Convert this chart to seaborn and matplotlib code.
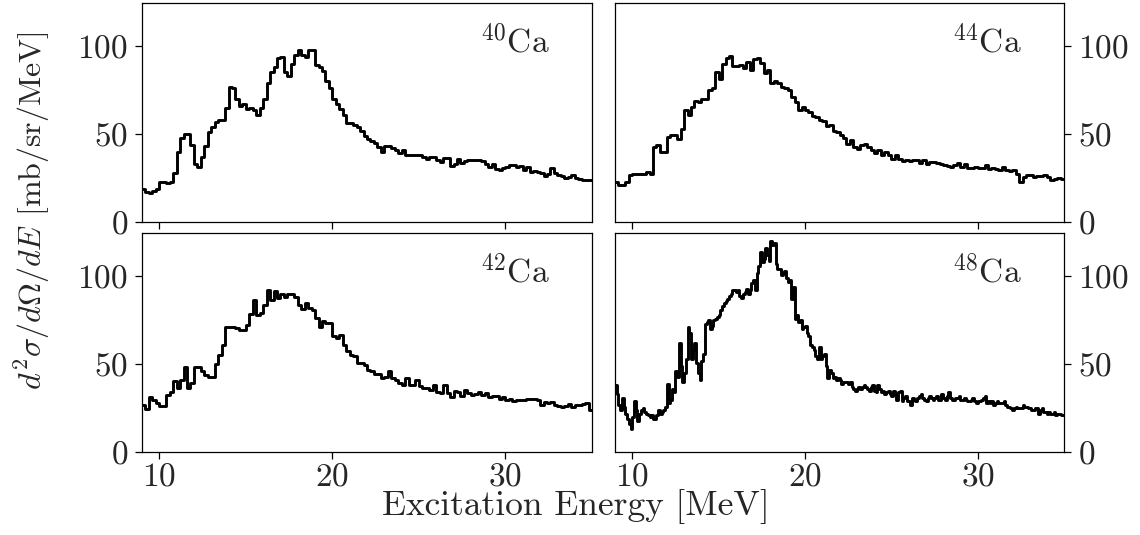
import numpy as np
import pandas as pd
import matplotlib
matplotlib.use("Agg")
import matplotlib.pyplot as plt
import seaborn as sns

# ---------------- data ----------------
e_min, e_max = 9.0, 35.0
bin_coarse = 0.2   # MeV, 40Ca / 42Ca / 44Ca
bin_fine = 0.1     # MeV, 48Ca

ca40 = [19, 17, 16.5, 17.5, 19, 22.5, 22.5, 22, 22.5, 28,
        40, 48, 50, 50, 44, 33, 31, 37, 43, 51,
        54, 57, 58, 58, 65, 77, 76, 70, 66, 67,
        64, 65, 63.5, 61, 65, 70, 79, 85, 88, 93,
        94, 85, 83, 90, 95, 98, 95, 94, 98, 98,
        89, 88, 86, 80, 76, 70, 67, 64, 61, 56,
        56, 55, 54, 52, 49, 47, 46, 45, 42.5, 40,
        43, 43, 42, 41, 39, 41, 38, 38, 38, 38,
        38, 37, 36, 37, 37, 35.5, 34, 36.5, 36.5, 32,
        33, 36, 33.5, 34.5, 35.5, 35.5, 35.5, 35, 34.5, 33,
        31.5, 33, 30, 29.5, 30.5, 31.5, 32.5, 32.5, 31.5, 32,
        29.5, 31.5, 28.5, 29, 28.5, 28, 26, 27.5, 30.5, 28,
        27, 26, 25, 25.5, 26.5, 25, 24.5, 24, 24, 24]

ca42 = [27, 24.5, 31.5, 29.5, 28, 26.5, 26.5, 32.5, 34.5, 40.5,
        36.5, 41, 48.5, 36.5, 39.5, 48.5, 48.5, 46, 44, 43,
        43, 50, 55.5, 61, 71.5, 71, 71, 70.5, 69.5, 69.5,
        72.5, 78.5, 86.5, 78, 79, 84, 92, 86.5, 91.5, 87.5,
        90, 88.5, 90, 90, 88.5, 84, 81.5, 85, 82, 81,
        76.5, 71.5, 74.5, 73.5, 73.5, 66, 65, 66.5, 61, 57.5,
        55.5, 55, 51, 50.5, 49.5, 47, 46, 44.5, 44.5, 42,
        43, 46.5, 42, 41, 39.5, 38.5, 42, 38.5, 38.5, 41,
        37.5, 36.5, 36.5, 35.5, 38, 34.5, 33.5, 38, 33.5, 31.5,
        35, 34, 32, 35.5, 33.5, 32.5, 33, 34, 32.5, 33.5,
        31.5, 32, 32, 30.5, 31.5, 30, 30.5, 29, 30, 30,
        30, 30.5, 30.5, 30.5, 29.5, 27, 28.5, 28, 28.5, 27,
        26.5, 26, 26.5, 27.5, 26, 27, 27, 27.5, 28, 24]

ca44 = [23, 21, 21, 23, 26.5, 27.5, 27.5, 27.5, 27.5, 28.5,
        27.5, 42.5, 43.5, 40, 40, 48.5, 49.5, 49.5, 47, 53,
        63.5, 61, 65.5, 69, 68.5, 70, 70, 75, 76, 85.5,
        81.5, 90, 93.5, 94.5, 88.5, 88.5, 89.5, 87.5, 91, 86.5,
        92.5, 93, 90.5, 84.5, 86.5, 79, 80, 79, 77, 76,
        75, 71, 68, 63.5, 65.5, 63.5, 62.5, 60.5, 59.5, 58,
        57.5, 54.5, 55, 52, 51, 49.5, 47.5, 44.5, 46.5, 42.5,
        41.5, 43.5, 44.5, 42.5, 41, 39.5, 41, 38, 40, 38,
        36, 38, 36, 34.5, 35, 34.5, 35.5, 35.5, 33.5, 35,
        33, 34, 34, 33.5, 33, 32.5, 32, 31.5, 32.5, 33.5,
        31.5, 33, 30.5, 30.5, 31, 30.5, 30.5, 32.5, 30, 30.5,
        30, 29.5, 31.5, 29.5, 29, 29.5, 27.5, 23, 25.5, 26.5,
        26.5, 25.5, 26, 26, 26.5, 25.5, 24, 24.5, 25, 24.5]

ca48 = [38, 33, 27, 24, 31, 26, 22, 19, 16, 13,
        20, 29, 24, 18, 22, 24, 25, 23, 22, 21,
        20, 21, 19, 19, 21, 24, 22, 23, 24, 26,
        39, 28, 30, 36, 34, 46, 43, 62, 49, 40,
        45, 53, 71, 68, 53, 58, 62, 51, 45, 41,
        52, 56, 73, 74, 75, 70, 72, 75, 76, 77,
        78, 81, 83, 85, 86, 87, 89, 90, 92, 92,
        91, 92, 89, 88, 90, 91, 93, 90, 92, 96,
        98, 92, 102, 106, 114, 108, 110, 116, 112, 109,
        120, 118, 119, 107, 104, 104, 101, 102, 103, 99,
        97, 98, 87, 94, 76, 78, 74, 75, 70, 71,
        72, 68, 66, 61, 60, 58, 55, 53, 60, 53,
        55, 56, 49, 42, 47, 45, 42, 43, 41, 42,
        41, 39, 40, 40, 40, 39, 40, 37, 36, 35,
        36, 37, 36, 37, 38, 37, 36, 35, 37, 38,
        35, 34, 38, 36, 34, 35, 33, 34, 35, 33,
        32, 35, 33, 30, 34, 35, 29, 31, 32, 29,
        29, 27, 31, 30, 29, 31, 32, 33, 31, 30,
        29, 31, 32, 31, 30, 31, 32, 30, 30, 33,
        31, 30, 32, 34, 31, 30, 30, 31, 31, 32,
        30, 30, 31, 30, 29, 29, 30, 31, 29, 28,
        29, 29, 30, 31, 32, 28, 29, 28, 29, 27,
        28, 29, 28, 28, 28, 29, 27, 26, 26, 25,
        24, 25, 26, 25, 25, 25, 27, 26, 26, 25,
        25, 24, 24, 25, 25, 22, 24, 25, 23, 23,
        22, 23, 22, 22, 23, 21, 22, 22, 21, 21]

isotopes = ["40", "44", "42", "48"]          # panel order: TL, TR, BL, BR
spectra = [ca40, ca44, ca42, ca48]
bin_widths = [bin_coarse, bin_coarse, bin_coarse, bin_fine]
x_ticks = [10, 20, 30]
y_ticks = [0, 50, 100]

# ---------------- style ----------------
sns.set_style("ticks")
plt.rcParams["font.family"] = ["cmr10", "DejaVu Serif"]
plt.rcParams["mathtext.fontset"] = "cm"
plt.rcParams["axes.formatter.use_mathtext"] = True
plt.rcParams["axes.linewidth"] = 0.9
plt.rcParams["xtick.major.width"] = 0.9
plt.rcParams["ytick.major.width"] = 0.9

fig = plt.figure(figsize=(11.4, 5.35), dpi=100)
W, H = 1140, 535
lefts = [142 / W, 615 / W]
widths = [(592 - 142) / W, (1064 - 615) / W]
bottoms = [1 - 222 / H, 1 - 452.3 / H]
height = 219 / H

for k, (iso, vals, bw) in enumerate(zip(isotopes, spectra, bin_widths)):
    row, col = divmod(k, 2)
    ax = fig.add_axes([lefts[col], bottoms[row], widths[col], height])
    n = len(vals)
    edges = e_min + bw * np.arange(n + 1)
    df = pd.DataFrame({"E": edges, "y": list(vals) + [vals[-1]]})
    sns.lineplot(data=df, x="E", y="y", ax=ax, color="black", linewidth=2.1,
                 drawstyle="steps-post", estimator=None, errorbar=None, sort=False)
    ax.set_xlim(e_min, e_max)
    ax.set_ylim(0, 124.5)
    ax.set_xticks(x_ticks)
    ax.set_yticks(y_ticks)
    ax.set_xlabel("")
    ax.set_ylabel("")
    ax.tick_params(axis="both", which="major", direction="out", length=5,
                   labelsize=24, color="black")
    ax.tick_params(axis="y", pad=5)
    ax.tick_params(axis="x", pad=2)
    if col == 1:
        ax.yaxis.tick_right()
    if row == 0:
        ax.tick_params(axis="x", labelbottom=False)
    for s in ax.spines.values():
        s.set_visible(True)
        s.set_color("black")
    ax.text(0.905, 0.905, r"$^{%s}$Ca" % iso, transform=ax.transAxes,
            ha="right", va="top", fontsize=24)

fig.text(0.028, 1 - 211 / H, r"$d^2\sigma/d\Omega/dE$ [mb/sr/MeV]",
         rotation=90, ha="center", va="center", fontsize=23)
fig.text(0.505, 1 - 506 / H, "Excitation Energy [MeV]",
         ha="center", va="center", fontsize=25.5)

fig.savefig("out.png", dpi=100)
